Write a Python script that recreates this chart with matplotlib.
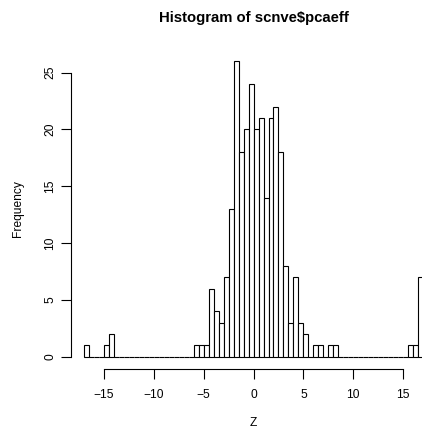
import matplotlib

matplotlib.use("Agg")

import matplotlib.pyplot as plt
import matplotlib.transforms as mtransforms
import numpy as np
from matplotlib import font_manager

# bin edges run from -17 to 17 in steps of 0.5
BIN_START = -17.0
BIN_WIDTH = 0.5
COUNTS = [
    1, 0, 0, 0, 1, 2,                      # -17 .. -14
    0, 0, 0, 0, 0, 0, 0, 0, 0, 0, 0, 0, 0, 0, 0, 0,   # -14 .. -6
    1, 1, 1, 6, 4, 3, 7, 13, 26, 18,       # -6 .. -1
    20, 24, 20, 21, 14, 21, 22, 18, 8, 3,  # -1 .. 4
    7, 3, 2, 0, 1, 1, 0, 1, 1,             # 4 .. 8.5
    0, 0, 0, 0, 0, 0, 0, 0, 0, 0, 0, 0, 0, 0,  # 8.5 .. 15.5
    1, 1, 7,                               # 15.5 .. 17
]
X_TICKS = [-15, -10, -5, 0, 5, 10, 15]
Y_TICKS = [0, 5, 10, 15, 20, 25]

W, H = 422, 428


def sans(bold=False):
    # pick the regular-width Liberation Sans file, not the Narrow one
    want = "LiberationSans-Bold.ttf" if bold else "LiberationSans-Regular.ttf"
    for f in font_manager.fontManager.ttflist:
        if f.fname.endswith(want):
            return font_manager.FontProperties(fname=f.fname)
    return font_manager.FontProperties(family="DejaVu Sans",
                                       weight="bold" if bold else "normal")


REG = sans()
BOLD = sans(bold=True)
FS = 8.64
FS_TITLE = 10.7


def fx(px):
    return px / W


def fy(py):
    return 1 - py / H


fig = plt.figure(figsize=(W / 100, H / 100), dpi=100)
# plot region extends slightly past the right edge of the canvas
ax = fig.add_axes([fx(70.5), fy(368.5), 366.1 / W, 319.0 / H])

edges = BIN_START + BIN_WIDTH * np.arange(len(COUNTS))
ax.bar(edges, COUNTS, width=BIN_WIDTH, align="edge", facecolor="white",
       edgecolor="black", linewidth=0.8)

top = max(COUNTS)
ax.set_xlim(BIN_START - 0.04 * 34, -BIN_START + 0.04 * 34)
ax.set_ylim(-0.04 * top, top * 1.04)

for side in ("top", "right"):
    ax.spines[side].set_visible(False)
ax.spines["left"].set_bounds(Y_TICKS[0], Y_TICKS[-1])
ax.spines["bottom"].set_bounds(X_TICKS[0], X_TICKS[-1])
for side in ("left", "bottom"):
    ax.spines[side].set_linewidth(0.8)

ax.set_xticks(X_TICKS)
ax.set_yticks(Y_TICKS)
ax.tick_params(length=7, width=0.8, labelbottom=False, labelleft=False)

# tick labels, placed R-style below / left of the axis lines
xt = mtransforms.blended_transform_factory(ax.transData, fig.transFigure)
for t in X_TICKS:
    fig.text(t, fy(389.5), str(t).replace("-", "\u2212"), transform=xt,
             ha="center", va="top", fontproperties=REG, fontsize=FS)
yt = mtransforms.blended_transform_factory(fig.transFigure, ax.transData)
for t in Y_TICKS:
    fig.text(fx(56), t, str(t), transform=yt, rotation=90,
             ha="right", va="center", fontproperties=REG, fontsize=FS)

fig.text(fx(253.5), fy(425.7), "Z", ha="center", va="baseline",
         fontproperties=REG, fontsize=FS)
fig.text(fx(20.7), fy(209), "Frequency", rotation=90, rotation_mode="anchor",
         ha="center", va="baseline", fontproperties=REG, fontsize=FS)
fig.text(fx(254), fy(22.3), "Histogram of scnve$pcaeff", ha="center",
         va="baseline", fontproperties=BOLD, fontsize=FS_TITLE)

fig.savefig("out.png", dpi=100)
